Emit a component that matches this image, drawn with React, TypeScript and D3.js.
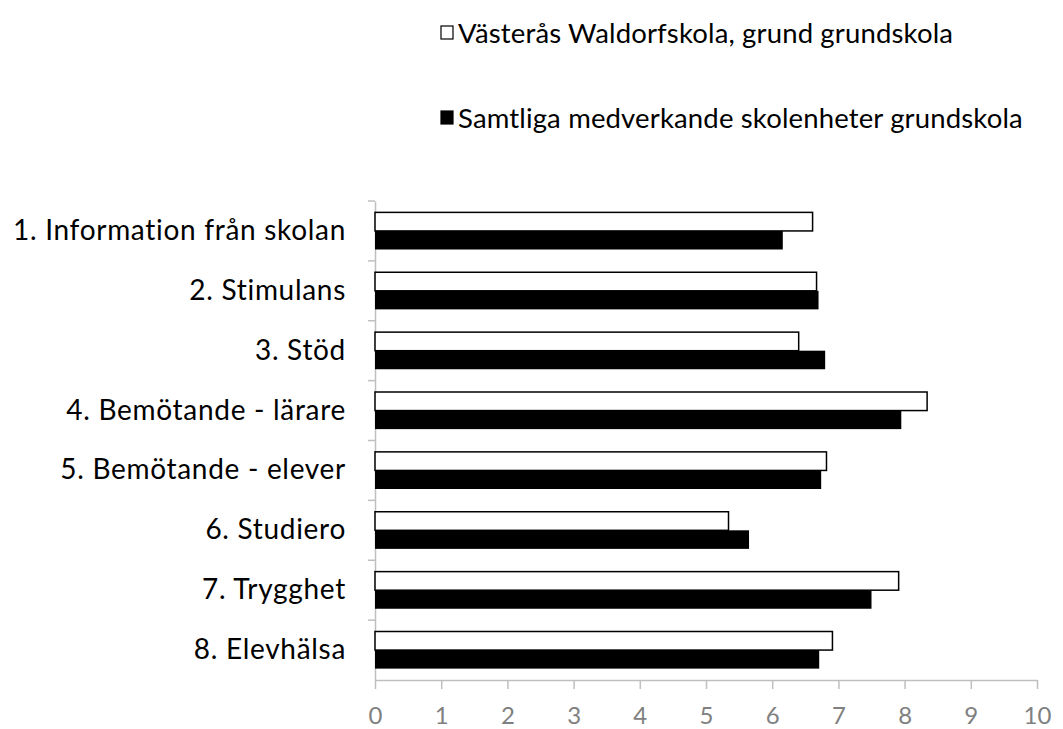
import React, { useEffect, useRef } from 'react';
import * as d3 from 'd3';

const categories = [
  '1. Information från skolan',
  '2. Stimulans',
  '3. Stöd',
  '4. Bemötande - lärare',
  '5. Bemötande - elever',
  '6. Studiero',
  '7. Trygghet',
  '8. Elevhälsa',
];
const schoolValues = [6.61, 6.67, 6.4, 8.34, 6.82, 5.34, 7.91, 6.91];
const allValues = [6.16, 6.7, 6.8, 7.95, 6.74, 5.65, 7.5, 6.71];
const seriesNames = [
  'Västerås Waldorfskola, grund grundskola',
  'Samtliga medverkande skolenheter grundskola',
];
const xTicks = [0, 1, 2, 3, 4, 5, 6, 7, 8, 9, 10];

const FONT = 'Lato, "Open Sans", sans-serif';

const App: React.FC = () => {
  const svgRef = useRef<SVGSVGElement>(null);

  useEffect(() => {
    const svg = d3.select(svgRef.current);
    svg.selectAll('*').remove();

    const left = 375, right = 1037, top = 201, bottom = 680;

    const x = d3.scaleLinear().domain([0, 10]).range([left, right]);
    const y = d3.scaleBand().domain(categories).range([top, bottom]).paddingInner(0.38).paddingOuter(0.19);
    const sub = d3.scaleBand().domain(['a', 'b']).range([0, y.bandwidth()]);

    // x axis
    const xa = svg.append('g').attr('transform', `translate(0,${bottom})`)
      .call(d3.axisBottom(x).tickValues(xTicks).tickSize(9).tickSizeOuter(0));
    xa.select('.domain').attr('stroke', '#bfbfbf').attr('stroke-width', 1.5);
    xa.selectAll('.tick line').attr('stroke', '#bfbfbf').attr('stroke-width', 1.5);
    xa.selectAll('.tick text').attr('fill', '#808080').attr('font-size', 24).attr('font-family', FONT)
      .attr('y', 44).attr('dy', 0);

    // y axis
    const ya = svg.append('g').attr('transform', `translate(${left},0)`)
      .call(d3.axisLeft(y).tickSize(0).tickPadding(29));
    ya.select('.domain').attr('stroke', '#bfbfbf').attr('stroke-width', 1.5);
    ya.selectAll('.tick text').attr('fill', '#000').attr('font-size', 28).attr('font-family', FONT)
      .style('font-variant-ligatures', 'none').attr('letter-spacing', 0.7);

    const step = (bottom - top) / categories.length;
    svg.append('g').selectAll('line')
      .data(d3.range(categories.length))
      .enter().append('line')
      .attr('x1', left - 7).attr('x2', left)
      .attr('y1', (i: number) => top + i * step).attr('y2', (i: number) => top + i * step)
      .attr('stroke', '#bfbfbf').attr('stroke-width', 1.5);

    const data = categories.map((c, i) => ({ c, a: schoolValues[i], b: allValues[i] }));

    svg.append('g').selectAll('rect')
      .data(data).enter().append('rect')
      .attr('x', x(0))
      .attr('y', (d: any) => (y(d.c) || 0) + (sub('a') || 0))
      .attr('width', (d: any) => x(d.a) - x(0))
      .attr('height', sub.bandwidth())
      .attr('fill', '#fff').attr('stroke', '#000').attr('stroke-width', 1.5);

    svg.append('g').selectAll('rect')
      .data(data).enter().append('rect')
      .attr('x', x(0))
      .attr('y', (d: any) => (y(d.c) || 0) + (sub('b') || 0))
      .attr('width', (d: any) => x(d.b) - x(0))
      .attr('height', sub.bandwidth())
      .attr('fill', '#000');

    // legend
    const legendY = [33, 118];
    const lg = svg.append('g');
    seriesNames.forEach((name, i) => {
      lg.append('rect')
        .attr('x', 441).attr('y', legendY[i] - 7).attr('width', 12).attr('height', 13)
        .attr('fill', i === 0 ? '#fff' : '#000').attr('stroke', '#000').attr('stroke-width', 1.2);
      lg.append('text')
        .attr('x', 458).attr('y', legendY[i]).attr('dy', '0.35em')
        .attr('font-size', 27.5).attr('font-family', FONT).attr('fill', '#000')
        .attr('letter-spacing', 0.15)
        .style('font-variant-ligatures', 'none')
        .text(name);
    });
  }, []);

  return <svg ref={svgRef} width={1063} height={729} style={{ position: 'absolute', left: 0, top: 0 }}></svg>;
};

export default App;
